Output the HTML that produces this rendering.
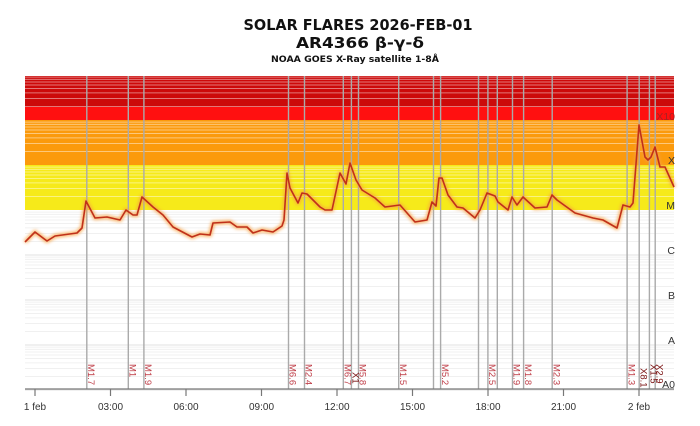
<!DOCTYPE html>
<html><head><meta charset="utf-8"><style>
html,body{margin:0;padding:0;background:#fff;}
svg{display:block;font-family:"Liberation Sans",sans-serif;}
</style></head><body>
<svg width="700" height="426" viewBox="0 0 700 426" xmlns="http://www.w3.org/2000/svg">
<defs><filter id="glow" x="-5%" y="-20%" width="110%" height="140%"><feGaussianBlur stdDeviation="1.6"/></filter></defs>
<g font-family="DejaVu Sans, sans-serif" font-weight="bold" fill="#111" text-anchor="middle">
<text x="358" y="30" font-size="15" textLength="229" lengthAdjust="spacingAndGlyphs">SOLAR FLARES 2026-FEB-01</text>
<text x="360" y="48" font-size="15" textLength="128" lengthAdjust="spacingAndGlyphs">AR4366 β-γ-δ</text>
<text x="355" y="62" font-size="9" textLength="168" lengthAdjust="spacingAndGlyphs">NOAA GOES X-Ray satellite 1-8Å</text>
</g>
<rect x="25" y="76" width="649" height="31" fill="#cc0a0a"/>
<rect x="25" y="107" width="649" height="13" fill="#ff1010"/>
<rect x="25" y="120" width="649" height="45" fill="#fb9a0c"/>
<rect x="25" y="165" width="649" height="45" fill="#f6ea1a"/>
<g id="grid"></g>
<g stroke="#aaa" stroke-width="1.4">
<line x1="86.8" y1="76" x2="86.8" y2="389"/><line x1="128.3" y1="76" x2="128.3" y2="389"/><line x1="143.9" y1="76" x2="143.9" y2="389"/>
<line x1="288.5" y1="76" x2="288.5" y2="389"/><line x1="304.5" y1="76" x2="304.5" y2="389"/><line x1="343.3" y1="76" x2="343.3" y2="389"/>
<line x1="351.4" y1="76" x2="351.4" y2="389"/><line x1="358.5" y1="76" x2="358.5" y2="389"/><line x1="398.7" y1="76" x2="398.7" y2="389"/>
<line x1="433.5" y1="76" x2="433.5" y2="389"/><line x1="440.6" y1="76" x2="440.6" y2="389"/><line x1="478.5" y1="76" x2="478.5" y2="389"/>
<line x1="487.9" y1="76" x2="487.9" y2="389"/><line x1="497.3" y1="76" x2="497.3" y2="389"/><line x1="512.5" y1="76" x2="512.5" y2="389"/>
<line x1="523.6" y1="76" x2="523.6" y2="389"/><line x1="552.2" y1="76" x2="552.2" y2="389"/><line x1="627.1" y1="76" x2="627.1" y2="389"/>
<line x1="639.2" y1="76" x2="639.2" y2="389"/><line x1="649.4" y1="76" x2="649.4" y2="389"/><line x1="655.2" y1="76" x2="655.2" y2="389"/>
</g>
<g fill="none" stroke-linejoin="round">
<polyline stroke="#f7a040" stroke-width="4" opacity="0.8" filter="url(#glow)" points="25,242 35,232 47,241 55,236 77,233 82,228 86,201 95,218 107,217 120,220 126,210 133,215 137,215 142,197 153,207 163,215 173,227 192,237 200,234 210,235 213,223 230,222 237,227 247,227 253,233 262,230 273,232 282,226 284,220 287,173 290,188 298,203 302,193 307,194 320,207 325,210 332,210 340,173 346,184 350,163 356,180 362,190 375,198 385,207 400,205 415,222 427,220 432,202 436,206 439,178 442,178 448,195 457,207 463,208 475,218 480,210 487,193 495,196 498,202 508,210 512,197 517,205 523,197 535,208 547,207 552,195 557,200 575,213 593,218 603,220 617,228 623,205 630,207 633,203 639,125 645,157 648,160 651,157 655,147 660,167 665,167 674,187"/>
<polyline stroke="#c0301a" stroke-width="1.6" points="25,242 35,232 47,241 55,236 77,233 82,228 86,201 95,218 107,217 120,220 126,210 133,215 137,215 142,197 153,207 163,215 173,227 192,237 200,234 210,235 213,223 230,222 237,227 247,227 253,233 262,230 273,232 282,226 284,220 287,173 290,188 298,203 302,193 307,194 320,207 325,210 332,210 340,173 346,184 350,163 356,180 362,190 375,198 385,207 400,205 415,222 427,220 432,202 436,206 439,178 442,178 448,195 457,207 463,208 475,218 480,210 487,193 495,196 498,202 508,210 512,197 517,205 523,197 535,208 547,207 552,195 557,200 575,213 593,218 603,220 617,228 623,205 630,207 633,203 639,125 645,157 648,160 651,157 655,147 660,167 665,167 674,187"/>
</g>
<g font-size="10.5" fill="#333" text-anchor="end">
<text x="675" y="120" fill="#a22">X10</text><text x="675" y="164">X</text><text x="675" y="209">M</text>
<text x="675" y="254">C</text><text x="675" y="299">B</text><text x="675" y="344">A</text><text x="675" y="388">A0</text>
</g>
<g font-size="9.5" fill="#c0404a">
<text transform="translate(88,364) rotate(90)">M1.7</text>
<text transform="translate(129.5,364) rotate(90)">M1</text>
<text transform="translate(145,364) rotate(90)">M1.9</text>
<text transform="translate(289.7,364) rotate(90)">M6.6</text>
<text transform="translate(305.7,364) rotate(90)">M2.4</text>
<text transform="translate(344.5,364) rotate(90)">M6.7</text>
<text transform="translate(352.6,372) rotate(90)" fill="#7a1010">X1</text>
<text transform="translate(359.7,364) rotate(90)">M5.8</text>
<text transform="translate(399.9,364) rotate(90)">M1.5</text>
<text transform="translate(441.8,364) rotate(90)">M5.2</text>
<text transform="translate(489.1,364) rotate(90)">M2.5</text>
<text transform="translate(513.7,364) rotate(90)">M1.9</text>
<text transform="translate(524.8,364) rotate(90)">M1.8</text>
<text transform="translate(553.4,364) rotate(90)">M2.3</text>
<text transform="translate(628.3,364) rotate(90)">M1.3</text>
<text transform="translate(640.4,368) rotate(90)" fill="#7a1010">X8.1</text>
<text transform="translate(650.6,364) rotate(90)" fill="#7a1010">X1.5</text>
<text transform="translate(656.4,364) rotate(90)" fill="#7a1010">X2.9</text>
</g>
<line x1="25" y1="389" x2="674" y2="389" stroke="#777" stroke-width="1.3"/>
<g stroke="#777" stroke-width="1.2">
<line x1="35" y1="389" x2="35" y2="396"/><line x1="110.5" y1="389" x2="110.5" y2="396"/><line x1="186" y1="389" x2="186" y2="396"/>
<line x1="261.5" y1="389" x2="261.5" y2="396"/><line x1="337" y1="389" x2="337" y2="396"/><line x1="412.5" y1="389" x2="412.5" y2="396"/>
<line x1="488" y1="389" x2="488" y2="396"/><line x1="563.5" y1="389" x2="563.5" y2="396"/><line x1="639" y1="389" x2="639" y2="396"/>
</g>
<g font-size="10" fill="#333" text-anchor="middle">
<text x="35" y="410">1 feb</text><text x="110.5" y="410">03:00</text><text x="186" y="410">06:00</text>
<text x="261.5" y="410">09:00</text><text x="337" y="410">12:00</text><text x="412.5" y="410">15:00</text>
<text x="488" y="410">18:00</text><text x="563.5" y="410">21:00</text><text x="639" y="410">2 feb</text>
</g>
</svg>
<script>
(function(){
var g=document.getElementById('grid'),s='';
var bottoms=[120,165,210,255,300,345,390];
for(var i=0;i<bottoms.length;i++){var b=bottoms[i];
 for(var k=2;k<=9;k++){var y=b-45*Math.log10(k); if(y<76)continue;
  var c=b<=210?'rgba(255,255,255,0.45)':'#f0f0f0';
  s+='<line x1="25" x2="674" y1="'+y.toFixed(1)+'" y2="'+y.toFixed(1)+'" stroke="'+c+'" stroke-width="1"/>';}
 if(b>210) s+='<line x1="25" x2="674" y1="'+b+'" y2="'+b+'" stroke="#e2e2e2" stroke-width="1"/>';}
g.innerHTML=s;
})();
</script>
</body></html>
